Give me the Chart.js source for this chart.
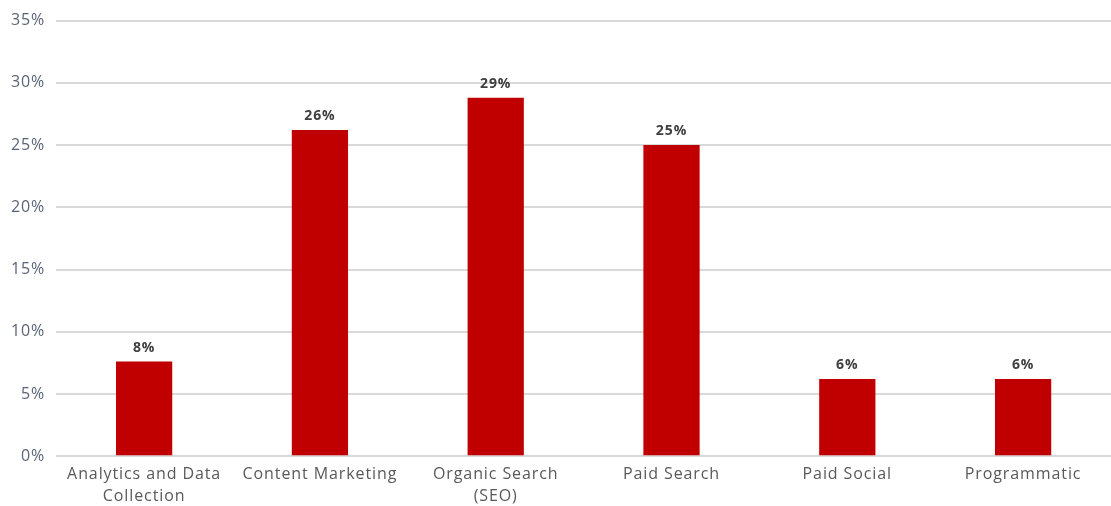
<!DOCTYPE html>
<html>
<head>
<meta charset="utf-8">
<script src="https://cdn.jsdelivr.net/npm/chart.js@4/dist/chart.umd.min.js"></script>
<style>
    html, body { margin: 0; padding: 0; background: #fff; }
    #wrap { width: 1111px; height: 506px; }
</style>
</head>
<body>
<div id="wrap"><canvas id="channelChart"></canvas></div>
<script>
const channels = [
    ['Analytics and Data', 'Collection'],
    'Content Marketing',
    ['Organic Search', '(SEO)'],
    'Paid Search',
    'Paid Social',
    'Programmatic'
];
const shares = [7.6, 26.2, 28.8, 25.0, 6.2, 6.2];
const yTicks = [0, 5, 10, 15, 20, 25, 30, 35];

const tickFont = '"Open Sans", sans-serif';

// wider tracking for all canvas text (set before layout so measuring agrees)
const tracking = {
    id: 'tracking',
    beforeInit(chart) { chart.ctx.letterSpacing = '0.9px'; },
    beforeLayout(chart) { chart.ctx.letterSpacing = '0.9px'; },
    beforeDraw(chart) { chart.ctx.letterSpacing = '0.9px'; }
};

// value labels above each bar
const barLabels = {
    id: 'barLabels',
    afterDatasetsDraw(chart) {
        const ctx = chart.ctx;
        const meta = chart.getDatasetMeta(0);
        ctx.save();
        ctx.font = 'bold 14px ' + tickFont;
        ctx.fillStyle = '#404040';
        ctx.textAlign = 'center';
        ctx.textBaseline = 'bottom';
        meta.data.forEach((bar, i) => {
            ctx.fillText(Math.round(shares[i]) + '%', bar.x, bar.y - 7);
        });
        ctx.restore();
    }
};

document.addEventListener('DOMContentLoaded', () => {
    const ctx = document.getElementById('channelChart').getContext('2d');
    new Chart(ctx, {
        type: 'bar',
        data: {
            labels: channels,
            datasets: [{
                data: shares,
                backgroundColor: '#C00000',
                barPercentage: 0.32,
                categoryPercentage: 1
            }]
        },
        options: {
            responsive: true,
            maintainAspectRatio: false,
            animation: false,
            layout: { padding: { top: 8, right: 0, bottom: -9, left: 0 } },
            plugins: {
                legend: { display: false },
                tooltip: { enabled: false }
            },
            scales: {
                x: {
                    grid: { display: false, drawTicks: false, tickLength: 0 },
                    border: { display: false },
                    ticks: {
                        color: '#595959',
                        font: { family: tickFont, size: 16, lineHeight: 1.4 },
                        padding: 7,
                        maxRotation: 0,
                        autoSkip: false
                    }
                },
                y: {
                    min: 0,
                    max: 35,
                    afterBuildTicks: (axis) => {
                        axis.ticks = yTicks.map(v => ({ value: v }));
                    },
                    grid: { color: '#d9d9d9', lineWidth: 2, drawTicks: false },
                    border: { display: false },
                    ticks: {
                        color: '#5a6478',
                        font: { family: tickFont, size: 16 },
                        padding: 11,
                        callback: v => v + '%'
                    }
                }
            }
        },
        plugins: [tracking, barLabels]
    });
});
</script>
</body>
</html>
